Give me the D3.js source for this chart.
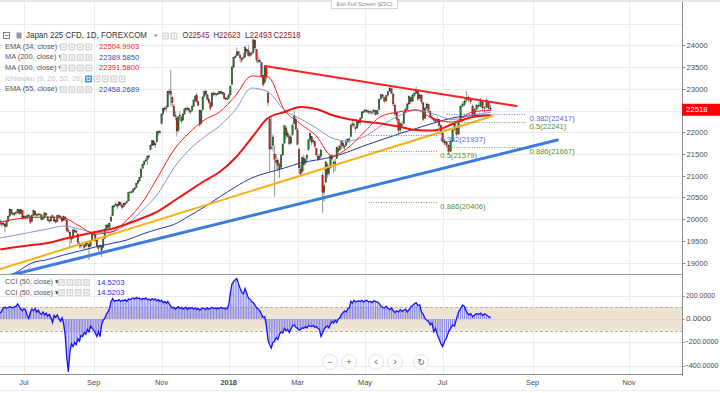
<!DOCTYPE html>
<html><head><meta charset="utf-8">
<script src="https://cdn.jsdelivr.net/npm/d3@7"></script>
<style>
html,body{margin:0;padding:0;background:#fff;}
svg{display:block;font-family:"Liberation Sans",Arial,"DejaVu Sans",sans-serif;}
</style>
</head><body>
<svg id="chart" width="720" height="393"></svg>
<script>
// ---------------- DATA ----------------
const startDate = "2017-06-12";
const calendarEnd = "2018-11-30";
const symbolTitle = "Japan 225 CFD, 1D, FOREXCOM";

const opens = [
19960,19900,19910,19880,19830,19950,20070,20230,20130,20110,20140,20150,20220,20130,20200,
20030,20060,20030,20090,20060,19950,20090,20180,20100,20100,20110,20100,20000,20030,20130,20050,19970,19960,20050,20040,19970,
19950,20080,20070,20020,19980,20050,19980,19740,19700,19560,19560,19740,19730,19650,19440,19400,19420,19400,19380,19440,19420,19380,19520,
19650,19650,19520,19330,19380,19380,19350,19560,19780,19870,19810,19950,20080,20300,20330,20340,20320,20380,20320,20290,20360,
20380,20420,20620,20620,20630,20690,20730,20830,20880,20960,21170,21260,21340,21370,21430,21600,21700,21800,21710,21780,22000,22010,
22200,22430,22540,22560,22580,22930,22930,22800,22600,22390,22330,22050,22370,22340,22280,22420,22520,22540,22540,22480,22500,22600,
22730,22850,22700,22500,22200,22520,22820,22940,22860,22760,22680,22600,22900,22870,22880,22870,22900,22930,22890,22900,22790,
22770,22780,22860,23100,23500,23720,23760,23850,23760,23700,23720,23730,23900,23880,23760,23820,23830,24120,23900,23650,23650,23600,23300,
23150,23480,22900,22300,21650,21700,21500,21350,21350,21250,21200,21480,21750,22100,21900,21900,21750,21950,22200,22300,
22050,21600,21150,21100,21400,21300,21400,21600,21830,21900,21780,21780,21620,21450,21400,21450,21000,20620,20850,21250,21050,21180,
21450,21300,21250,21400,21620,21600,21700,21750,21680,21700,21780,21830,21900,22170,22180,22100,22100,22250,22220,22330,22470,
22480,22500,22470,22480,22450,22470,22500,22420,22520,22770,22860,22800,22720,22850,22950,23000,22880,22620,22440,22300,22050,22150,22200,
22450,22530,22650,22800,22720,22850,22900,22950,22780,22850,22680,22320,22560,22640,22480,22350,22320,22270,22260,22290,22150,
21980,21800,21760,21700,21560,21800,22060,22100,21960,22250,22600,22640,22730,22800,22750,22600,22420,22530,22620,22600,22680,22550,
22580,22700,22545];
const highs = [
19990,19950,19960,19900,19980,20090,20250,20240,20170,20160,20190,20240,20230,20240,20210,
20090,20080,20110,20120,20080,20100,20220,20200,20140,20150,20140,20120,20060,20170,20150,20070,20000,20070,20110,20060,20000,
20100,20110,20090,20040,20080,20070,19990,19800,19720,19600,19780,19790,19760,19680,19480,19430,19470,19420,19480,19470,19440,19520,19680,
19720,19670,19540,19400,19420,19400,19560,19790,19880,19900,19930,20100,20320,20340,20400,20360,20420,20400,20340,20380,20400,
20420,20630,20650,20660,20710,20740,20840,20900,20970,21170,21280,21350,21400,21470,21480,21720,21820,21830,21760,22030,22060,22040,
22440,22560,22600,22620,22950,23000,23430,22850,22650,22480,22380,22380,22480,22380,22440,22560,22580,22590,22560,22520,22620,22760,
22860,22900,22720,22520,22520,22830,22960,22980,22880,22800,22700,22920,22940,22920,22900,22920,22950,22950,22930,22920,22800,
22830,22900,23080,23530,23730,23790,23950,23870,23800,23720,23820,24000,23920,24000,23860,23850,24150,24130,23920,23720,23700,23620,23320,
23500,23500,22960,22350,22350,21950,21700,21500,21400,21300,21500,21750,22160,22150,22050,21950,21950,22200,22500,22350,
22100,21650,21250,21450,21480,21420,21500,21850,22000,21920,21850,21800,21650,21500,21500,21620,21080,20800,21350,21300,21200,21480,
21500,21350,21400,21660,21700,21720,21820,21780,21720,21850,21860,21880,22180,22250,22230,22150,22300,22280,22350,22480,22520,
22550,22540,22520,22500,22520,22550,22520,22520,22780,22880,22880,22820,22860,22950,23050,23010,22900,22660,22480,22330,22230,22250,22480,
22560,22680,22850,22820,22880,22930,23050,22980,22900,22870,22700,22580,22680,22660,22500,22400,22350,22320,22350,22310,22180,
22020,21850,21800,21720,21800,22080,22220,22150,22220,22620,22700,22760,22950,22850,22800,22640,22550,22650,22680,22790,22720,22600,
22780,22720,22623];
const lows = [
19850,19830,19850,19700,19810,19940,20060,20100,20080,20070,20110,20140,20090,20120,19990,
20000,19990,20010,20040,19890,19940,20070,20060,20050,20070,20080,19970,19980,20020,20060,19950,19920,19950,20030,19940,19900,
19940,20030,19990,19930,19960,19960,19700,19680,19350,19450,19540,19680,19660,19400,19330,19320,19400,19310,19370,19380,19060,19370,19500,
19620,19480,19360,19250,19340,19130,19340,19550,19760,19780,19790,19940,20070,20260,20300,20230,20300,20290,20220,20270,20320,
20350,20410,20590,20590,20600,20660,20710,20800,20860,20950,21150,21230,21310,21250,21400,21580,21680,21680,21640,21760,21930,21950,
22180,22400,22480,22480,22570,22850,22600,22580,22340,22280,21900,22000,22290,22200,22250,22400,22480,22500,22440,22420,22480,22580,
22700,22690,22600,22120,22180,22500,22800,22850,22730,22650,22500,22590,22840,22820,22830,22850,22880,22860,22860,22760,22730,
22740,22760,22840,23080,23480,23700,23740,23750,23600,23600,23690,23720,23800,23740,23720,23760,23820,23900,23600,23580,23600,23250,23050,
23100,23220,22600,21100,21600,21550,20520,21150,21100,20950,21150,21450,21740,21850,21880,21700,21720,21920,22180,22050,
21700,21050,20970,21080,21100,21250,21300,21580,21800,21700,21740,21640,21450,21330,21380,21420,20150,20400,20830,20950,21000,21160,
21350,21050,21100,21380,21500,21580,21620,21620,21600,21680,21760,21750,21880,22120,22100,22020,22080,22150,22180,22300,22430,
22450,22440,22420,22400,22400,22420,22380,22400,22510,22750,22780,22680,22700,22820,22930,22880,22600,22380,22250,21950,22000,22100,22180,
22420,22500,22630,22650,22700,22800,22880,22720,22750,22650,22250,22300,22520,22460,22320,22280,22230,22200,22240,22100,21950,
21760,21700,21650,21480,21540,21780,22040,21900,21940,22230,22580,22600,22700,22700,22650,22380,22400,22500,22560,22580,22500,22440,
22560,22520,22493];
const closes = [
19910,19900,19880,19830,19940,20067,20230,20138,20110,20132,20153,20225,20130,20220,20033,
20055,20032,20081,20081,19929,20080,20195,20098,20099,20118,20120,20000,20020,20144,20099,19975,19955,20050,20079,19959,19925,
20080,20080,20029,19952,20055,19996,19738,19729,19600,19538,19753,19729,19702,19470,19393,19383,19434,19353,19452,19449,19362,19506,19646,
19691,19508,19385,19357,19396,19274,19545,19776,19865,19807,19909,20050,20299,20310,20347,20296,20397,20330,20267,20363,20356,
20400,20614,20626,20628,20690,20720,20823,20881,20954,21155,21255,21336,21363,21448,21457,21696,21805,21707,21739,22008,22011,22011,
22420,22539,22550,22548,22937,22913,22868,22681,22381,22380,22028,22351,22397,22261,22416,22523,22550,22550,22495,22486,22597,22724,
22819,22707,22622,22177,22498,22811,22938,22866,22758,22694,22553,22901,22868,22891,22866,22902,22939,22892,22911,22783,22765,
22780,22850,23050,23500,23714,23750,23849,23788,23710,23653,23714,23951,23868,23763,23808,23816,24124,23940,23669,23631,23629,23291,23098,
23486,23274,22682,21610,21645,21891,21382,21300,21244,21154,21464,21720,22149,21925,21970,21736,21892,22153,22389,22068,
21724,21181,21042,21417,21252,21368,21469,21824,21968,21777,21803,21676,21480,21380,21450,21591,20617,20766,21317,21031,21159,21454,
21388,21292,21319,21645,21567,21678,21794,21687,21660,21778,21835,21847,22158,22191,22162,22088,22278,22215,22319,22467,22470,
22508,22472,22480,22470,22467,22508,22408,22497,22758,22865,22818,22717,22838,22930,23002,22900,22650,22420,22300,22050,22200,22180,22450,
22520,22650,22820,22700,22850,22900,22970,22760,22860,22700,22300,22550,22650,22500,22350,22330,22280,22250,22300,22150,22000,
21800,21750,21700,21560,21780,22050,22190,21950,22200,22600,22650,22720,22800,22760,22700,22400,22520,22610,22590,22700,22560,22560,
22740,22545,22518];

const cci = [
48,70,95,100,92,98,105,100,95,105,
110,128,105,85,70,88,75,30,5,55,
85,70,90,60,75,50,40,60,35,50,
25,40,10,-30,30,15,35,5,-20,10,
-40,-135,-330,-450,-280,-210,-235,-200,-220,-170,
-190,-140,-150,-115,-130,-90,-110,-60,-80,-95,
-120,-150,-110,-150,-50,-10,5,40,60,90,
150,175,150,160,155,165,150,160,155,165,
150,170,165,175,180,170,185,175,180,165,
175,170,180,165,170,160,175,165,170,155,
165,150,160,140,150,135,150,130,110,95,
100,85,95,105,90,100,85,95,100,80,
95,90,100,85,95,80,90,75,85,95,
90,80,95,85,90,100,90,95,85,95,
90,100,90,95,85,90,120,220,300,320,
335,345,300,260,230,215,260,220,180,170,
150,140,120,95,85,70,40,15,20,-60,
-180,-220,-250,-200,-190,-160,-175,-130,-110,-120,
-80,-100,-90,-115,-85,-60,-50,-70,-80,-95,
-90,-75,-80,-65,-75,-55,-60,-65,-55,-70,
-65,-80,-90,-150,-120,-85,-70,-60,-75,-45,
-20,-35,-10,-30,0,10,40,55,70,60,
85,95,150,135,160,145,150,155,150,160,
145,155,160,145,150,140,155,150,145,135,
110,100,95,110,90,80,95,70,55,70,
60,80,65,75,85,60,80,105,115,130,
140,115,120,60,40,5,-10,-20,-50,-35,
-110,-80,-135,-170,-210,-235,-190,-160,-110,-80,
-50,-60,5,60,90,120,105,60,35,45,
20,35,45,40,50,30,45,35,20,14.52];

const maSampleBars = [0,10,20,30,40,50,60,70,80,90,100,110,120,130,140,150,160,170,180,190,200,210,220,230,240,250,260,270,280,290,299];
const ema34 = [19936,20005,20039,20051,20028,19844,19660,19706,19982,20396,20994,21592,21983,22282,22466,22834,23294,23271,22512,22190,21914,21454,21638,21983,22362,22466,22512,22305,22236,22466,22505];
const ma200 = [18580,18774,18993,19073,19177,19269,19361,19441,19522,19660,19775,19878,20074,20281,20511,20741,20948,21074,21178,21293,21362,21431,21546,21684,21822,21960,22086,22213,22328,22385,22390];
const ma100 = [19303,19361,19407,19453,19545,19625,19706,19775,19890,20028,20189,20419,20649,20879,21086,21408,21868,22328,22466,22581,22535,22397,22305,22247,22201,22132,22052,22040,22190,22351,22392];
const ema55 = [19568,19637,19706,19775,19844,19775,19694,19706,19890,20212,20603,21178,21592,21891,22144,22512,23017,22926,22512,22305,22098,21868,21799,21891,22144,22374,22512,22420,22293,22397,22458];

const legendNames = ["EMA (34, close)","MA (200, close)","MA (100, close)","Ichimoku (9, 26, 52, 26)","EMA (55, close)"];
const legendValues = ["22504.9903","22389.5850","22391.5800","","22458.2689"];
const ohlcLabels = ["O","H","L","C"];
const ohlcValues = ["22545","22623","22493","22518"];
const cciName = "CCI (50, close)";
const cciValue = "14.5203";

const priceTicks = [19000,19500,20000,20500,21000,21500,22000,22500,23000,23500,24000];
const priceGrid = [19000,19500,20000,20500,21000,21500,22000,22500,23000,23500,24000,24500];
const cciTicks = [200,0,-200,-400];
const monthTickDates = ["2017-07-03","2017-09-01","2017-11-01","2018-01-02","2018-03-01","2018-05-01","2018-07-02","2018-09-03","2018-11-01"];
const monthTickLabels = ["Jul","Sep","Nov","2018","Mar","May","Jul","Sep","Nov"];

// trend lines: [date, price] endpoints
const redTrendDates = ["2018-02-01","2018-08-22"]; const redTrendPrices = [23524,22604];
const orangeTrendDates = ["2017-06-12","2018-08-06"]; const orangeTrendPrices = [18855,22374];
const blueTrendDates = ["2017-06-12","2018-09-18"]; const blueTrendPrices = [18655,21822];

// fibonacci levels
const fibARange = ["2018-05-03","2018-06-27"];
const fibARatios = ["0.382","0.5","0.886"]; const fibAValues = [21937,21579,20406];
const fibBRange = ["2018-07-04","2018-08-29"];
const fibBRatios = ["0.382","0.5","0.886"]; const fibBValues = [22417,22241,21667];

// ---------------- LAYOUT ----------------
const W = 720, H = 393;
const AX = 682;
const MAIN_T = 2, MAIN_B = 274, CCI_T = 275, CCI_B = 374;
const monthTickX = [24, 93.7, 161.6, 228.7, 297.5, 365, 442.6, 532.6, 629];

const svg = d3.select("#chart");
const parse = d3.timeParse("%Y-%m-%d");
const fmt = d3.timeFormat("%Y-%m-%d");
const days = [];
for (let d = parse(startDate); d <= parse(calendarEnd); d = d3.timeDay.offset(d, 1)) {
  const wd = d.getDay(); if (wd > 0 && wd < 6) days.push(fmt(d));
}
const idxOf = s => days.indexOf(s);

const x = d3.scaleLinear().domain(monthTickDates.map(idxOf)).range(monthTickX);
const y = d3.scaleLinear().domain([19000, 24000]).range([262.7, 45.3]);
const yc = d3.scaleLinear().domain([-400, 200]).range([365.8, 295.6]);

const defs = svg.append("defs");
defs.append("clipPath").attr("id","clipMain").append("rect").attr("x",0).attr("y",MAIN_T).attr("width",AX).attr("height",MAIN_B-MAIN_T);
defs.append("clipPath").attr("id","clipCci").append("rect").attr("x",0).attr("y",CCI_T).attr("width",AX).attr("height",CCI_B-CCI_T);

svg.append("rect").attr("width",W).attr("height",H).attr("fill","#fff");
svg.append("rect").attr("width",W).attr("height",2).attr("fill","#e3e6ea");

// grid
const grid = svg.append("g");
grid.selectAll("line.v").data(monthTickDates).join("line")
  .attr("x1",d=>Math.round(x(idxOf(d)))+0.5).attr("x2",d=>Math.round(x(idxOf(d)))+0.5)
  .attr("y1",MAIN_T).attr("y2",CCI_B).attr("stroke","#ececec").attr("stroke-width",1);
grid.selectAll("line.h").data(priceGrid).join("line")
  .attr("x1",0).attr("x2",AX).attr("y1",d=>Math.round(y(d))+0.5).attr("y2",d=>Math.round(y(d))+0.5)
  .attr("stroke","#ececec");
grid.selectAll("line.c").data(cciTicks).join("line")
  .attr("x1",0).attr("x2",AX).attr("y1",d=>Math.round(yc(d))+0.5).attr("y2",d=>Math.round(yc(d))+0.5)
  .attr("stroke","#ececec");

// ---------------- MAIN PANE ----------------
const main = svg.append("g").attr("clip-path","url(#clipMain)");

const bars = closes.map((c,i)=>({i,o:opens[i],h:highs[i],l:lows[i],c}));
main.append("g").selectAll("line").data(bars).join("line")
  .attr("x1",d=>x(d.i)).attr("x2",d=>x(d.i))
  .attr("y1",d=>y(d.h)).attr("y2",d=>y(d.l))
  .attr("stroke","#7a7a7a").attr("stroke-width",0.8);
main.append("g").selectAll("rect").data(bars).join("rect")
  .attr("x",d=>x(d.i)-0.75).attr("width",1.5)
  .attr("y",d=>y(Math.max(d.o,d.c)))
  .attr("height",d=>Math.max(0.8, Math.abs(y(d.o)-y(d.c))))
  .attr("fill",d=>d.c>=d.o?"#1e7d22":"#d21f1f")
  .attr("stroke","#222").attr("stroke-width",0.3);

const maLine = vals => d3.line().curve(d3.curveMonotoneX)
  .x((d,k)=>x(maSampleBars[k])).y(d=>y(d))(vals);
main.append("path").attr("d",maLine(ma200)).attr("fill","none").attr("stroke","#23389a").attr("stroke-width",1);
main.append("path").attr("d",maLine(ema55)).attr("fill","none").attr("stroke","#8595d6").attr("stroke-width",1);
main.append("path").attr("d",maLine(ma100)).attr("fill","none").attr("stroke","#f01414").attr("stroke-width",2);
main.append("path").attr("d",maLine(ema34)).attr("fill","none").attr("stroke","#ff1a1a").attr("stroke-width",1);

function trend(dates, prices, color, width){
  main.append("line")
    .attr("x1",x(idxOf(dates[0]))).attr("y1",y(prices[0]))
    .attr("x2",x(idxOf(dates[1]))).attr("y2",y(prices[1]))
    .attr("stroke",color).attr("stroke-width",width).attr("stroke-linecap","round");
}
trend(orangeTrendDates, orangeTrendPrices, "#f7b21a", 2);
trend(blueTrendDates, blueTrendPrices, "#3c7be0", 3);
trend(redTrendDates, redTrendPrices, "#ff1f1f", 2);

function fib(range, ratios, values){
  const x1 = x(idxOf(range[0])), x2 = x(idxOf(range[1]));
  ratios.forEach((r,k)=>{
    const col = r==="0.382" ? "#6f7be6" : "#7aa850";
    const tcol = r==="0.382" ? "#5b66d8" : "#5a8f34";
    const yy = Math.round(y(values[k]))+0.5;
    main.append("line").attr("x1",x1).attr("x2",x2).attr("y1",yy).attr("y2",yy)
      .attr("stroke",col).attr("stroke-width",1).attr("stroke-dasharray","1,1.5");
    svg.append("text").attr("x",x2+3).attr("y",yy+4.5)
      .attr("font-size",7.6).attr("fill",tcol).attr("dominant-baseline","middle")
      .text(`${r}(${values[k]})`);
  });
}
fib(fibARange, fibARatios, fibAValues);
fib(fibBRange, fibBRatios, fibBValues);

// ---------------- CCI PANE ----------------
const cg = svg.append("g").attr("clip-path","url(#clipCci)");
cg.append("rect").attr("x",0).attr("width",AX).attr("y",yc(100)).attr("height",yc(-100)-yc(100)).attr("fill","#ede3d2");
[100,-100].forEach(v=>cg.append("line").attr("x1",0).attr("x2",AX)
  .attr("y1",Math.round(yc(v))+0.5).attr("y2",Math.round(yc(v))+0.5)
  .attr("stroke","#b9b2a6").attr("stroke-dasharray","3,2"));
cg.append("line").attr("x1",0).attr("x2",AX).attr("y1",Math.round(yc(0))+0.5).attr("y2",Math.round(yc(0))+0.5).attr("stroke","#e2d6c2");
cg.append("g").selectAll("line").data(cci).join("line")
  .attr("x1",(d,i)=>x(i)).attr("x2",(d,i)=>x(i))
  .attr("y1",yc(0)).attr("y2",d=>yc(d))
  .attr("stroke","#6c6cf0").attr("stroke-width",0.8);
cg.append("path").attr("d", d3.line().x((d,i)=>x(i)).y(d=>yc(d))(cci))
  .attr("fill","none").attr("stroke","#1414ff").attr("stroke-width",1.3);

const navGlyphs = ["−","+","‹","›","↻"];
const navX = [330,349,376,395,421];
navGlyphs.forEach((g,k)=>{
  svg.append("circle").attr("cx",navX[k]).attr("cy",362).attr("r",7.5)
    .attr("fill","#fff").attr("stroke","#e3e3e3");
  svg.append("text").attr("x",navX[k]).attr("y",362.5).attr("text-anchor","middle")
    .attr("dominant-baseline","middle").attr("font-size",g==="‹"||g==="›"?11:9).attr("fill","#666").text(g);
});

// ---------------- FRAME & AXES ----------------
svg.append("line").attr("x1",0).attr("x2",AX).attr("y1",MAIN_B+0.5).attr("y2",MAIN_B+0.5).attr("stroke","#9a9a9a");
svg.append("line").attr("x1",0).attr("x2",AX+1).attr("y1",CCI_B+0.5).attr("y2",CCI_B+0.5).attr("stroke","#8c8c8c");
svg.append("line").attr("x1",AX+0.5).attr("x2",AX+0.5).attr("y1",MAIN_T).attr("y2",CCI_B+2).attr("stroke","#8c8c8c");
svg.append("line").attr("x1",0).attr("x2",W).attr("y1",390.5).attr("y2",390.5).attr("stroke","#eeeeee");

const pax = svg.append("g");
priceTicks.forEach(p=>{
  const yy = Math.round(y(p))+0.5;
  pax.append("line").attr("x1",AX).attr("x2",AX+3.5).attr("y1",yy).attr("y2",yy).attr("stroke","#8c8c8c");
  pax.append("text").attr("x",AX+4.5).attr("y",yy).attr("dominant-baseline","middle")
    .attr("font-size",7.6).attr("fill","#4a4a4a").text(p);
});
cciTicks.forEach(v=>{
  const yy = Math.round(yc(v))+0.5;
  pax.append("line").attr("x1",AX).attr("x2",AX+2.5).attr("y1",yy).attr("y2",yy).attr("stroke","#8c8c8c");
  const s = d3.format(".4f")(v);
  pax.append("text").attr("x",AX+(v<0?2.5:4)).attr("y",yy).attr("dominant-baseline","middle")
    .attr("font-size",7.1).attr("fill","#4a4a4a")
    .attr("textLength", v<0 ? 34 : (v===0 ? 25 : 29)).attr("lengthAdjust","spacingAndGlyphs").text(s);
});
const lastY = y(closes[closes.length-1]);
svg.append("rect").attr("x",AX).attr("y",lastY-6).attr("width",W-AX).attr("height",12).attr("fill","#ff0000");
svg.append("text").attr("x",AX+4).attr("y",lastY+0.5).attr("dominant-baseline","middle")
  .attr("font-size",7.8).attr("fill","#fff").text(closes[closes.length-1]);

monthTickDates.forEach((d,k)=>{
  svg.append("text").attr("x",x(idxOf(d))).attr("y",383).attr("text-anchor","middle")
    .attr("dominant-baseline","middle").attr("font-size",7.4)
    .attr("font-weight",monthTickLabels[k]==="2018"?"bold":"normal")
    .attr("fill","#4a4a4a").text(monthTickLabels[k]);
});

// ---------------- LEGENDS ----------------
function icons(x0, yy, n, firstBlue){
  for(let k=0;k<n;k++){
    svg.append("rect").attr("x",x0+k*8.4).attr("y",yy-3.6).attr("width",7).attr("height",7.2)
      .attr("fill", firstBlue&&k===0 ? "#3d9ae8" : "#d9d9d9").attr("rx",0.8);
    svg.append("rect").attr("x",x0+k*8.4+2).attr("y",yy-1.6).attr("width",3).attr("height",3.2)
      .attr("fill","none").attr("stroke","#fff").attr("stroke-width",0.8);
  }
}
svg.append("rect").attr("x",3.5).attr("y",32.5).attr("width",6).attr("height",6).attr("fill","none").attr("stroke","#666").attr("stroke-width",0.8);
svg.append("line").attr("x1",5).attr("x2",8.5).attr("y1",35.5).attr("y2",35.5).attr("stroke","#666").attr("stroke-width",0.8);
svg.append("rect").attr("x",16.5).attr("y",32.5).attr("width",5).attr("height",6).attr("fill","#9a9a9a");
svg.append("text").attr("x",26).attr("y",36).attr("dominant-baseline","middle").attr("font-size",9.4)
  .attr("fill","#333").attr("textLength",121).attr("lengthAdjust","spacingAndGlyphs").text(symbolTitle);
// dropdown caret drawn as a small shape
svg.append("path").attr("d","M153.5,34.5 L158,34.5 L155.75,37 Z").attr("fill","#999");
icons(162,36,2,false);
const ohlcX = [182.5, 213.5, 245, 273.5];
ohlcLabels.forEach((l,k)=>{
  const t = svg.append("text").attr("x",ohlcX[k]).attr("y",36).attr("dominant-baseline","middle").attr("font-size",8.2)
    .attr("textLength",27).attr("lengthAdjust","spacingAndGlyphs");
  t.append("tspan").attr("fill","#333").text(l);
  t.append("tspan").attr("fill","#8b2323").text(ohlcValues[k]);
});
const rowY = [47,57.5,68,79,89.5];
const valCols = ["#ff1a1a","#3446b0","#ff1a1a","#3446b0","#3446b0"];
legendNames.forEach((n,k)=>{
  const faded = k===3;
  svg.append("text").attr("x",5).attr("y",rowY[k]).attr("dominant-baseline","middle").attr("font-size",7.4)
    .attr("fill",faded?"#c4c4c4":"#555").text(n+" ▾");
  if(faded){ icons(85,rowY[k],5,true); }
  else { icons(60,rowY[k],4,false);
    svg.append("text").attr("x",99).attr("y",rowY[k]).attr("dominant-baseline","middle").attr("font-size",7.6)
      .attr("fill",valCols[k]).text(legendValues[k]); }
});
[282.5,292.7].forEach(yy=>{
  svg.append("text").attr("x",5).attr("y",yy).attr("dominant-baseline","middle").attr("font-size",7.2).attr("fill","#555").text(cciName+" ▾");
  icons(58,yy,4,false);
  svg.append("text").attr("x",97).attr("y",yy).attr("dominant-baseline","middle").attr("font-size",7.6).attr("fill","#2b2bf0").text(cciValue);
});

svg.append("rect").attr("x",331.5).attr("y",-0.5).attr("width",66).attr("height",9).attr("fill","#fff").attr("stroke","#d4d4d4");
svg.append("text").attr("x",364.5).attr("y",4.5).attr("text-anchor","middle").attr("dominant-baseline","middle")
  .attr("font-size",5.6).attr("fill","#8a8a8a").text("Exit Full Screen (ESC)");
</script>
</body></html>
